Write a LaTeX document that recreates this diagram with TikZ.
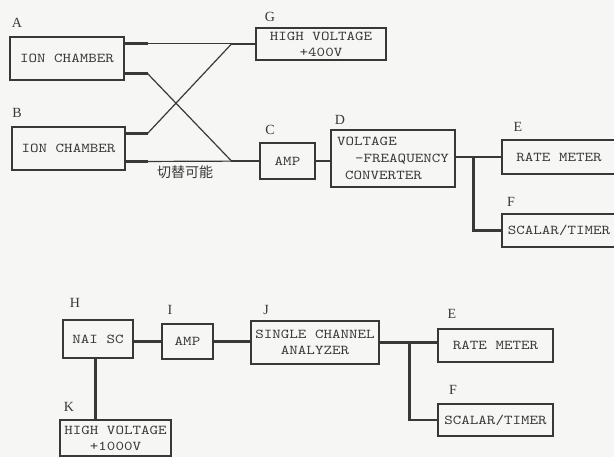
\documentclass[tikz,border=0pt]{standalone}
\usepackage{fontspec}
\setmainfont{Liberation Serif}
\setmonofont{lmmono10-regular.otf}[FakeStretch=1.2]
\newfontfamily\cjk{Noto Sans CJK JP}
\usetikzlibrary{positioning}
\definecolor{ink}{gray}{0.22}
\definecolor{paper}{rgb}{0.965,0.965,0.955}

\begin{document}
\begin{tikzpicture}[x=1pt, y=-1pt,
   box/.style={draw=ink, line width=1.1pt, text=ink, inner sep=2pt, align=center,
     font=\ttfamily\fontsize{13.5}{16}\selectfont},
   tag/.style={text=ink, inner sep=0pt, font=\fontsize{14}{14}\selectfont},
   wire/.style={draw=ink, line width=2.6pt},
   lead/.style={draw=ink, line width=1.2pt}]
   \fill[paper] (0,0) rectangle (614,457);
   \useasboundingbox (0,0) rectangle (614,457);

   % ion chambers
   \node[box, minimum width=114, minimum height=43] (A) at (67,58.5) {ION CHAMBER};
   \node[box, minimum width=113, minimum height=43] (B) at (68.5,148.5) {ION CHAMBER};
   \node[box, minimum width=130, minimum height=32] (G) at (321,44) {HIGH VOLTAGE\\+400V};
   \node[box, minimum width=55, minimum height=36] (C) at (287.5,161) {AMP};
   \node[box, minimum width=124, minimum height=57, align=left,
         font=\ttfamily\fontsize{13.5}{17}\selectfont] (D) at (393,158.5)
         {VOLTAGE\\\hspace*{18pt}-FREAQUENCY\\\hspace*{8pt}CONVERTER};
   \node[box, minimum width=114, minimum height=34] (E) at (559,157) {RATE METER};
   \node[box, minimum width=114, minimum height=33] (F) at (559,230.5) {SCALAR/TIMER};

   \node[tag] (tA) at (17,23) {A};
   \node[tag] (tB) at (17,113) {B};
   \node[tag] (tG) at (270,17) {G};
   \node[tag] (tC) at (270,130) {C};
   \node[tag] (tD) at (340,120) {D};
   \node[tag] (tE) at (518,127) {E};
   \node[tag] (tF) at (511,202) {F};
   \node[text=ink, inner sep=0pt, font=\cjk\fontsize{14}{14}\selectfont] (sw) at (185,172) {切替可能};

   \coordinate (a1) at ([yshift=-7pt]A.north east);
   \coordinate (a2) at ([yshift=7pt]A.south east);
   \coordinate (b1) at ([yshift=-7pt]B.north east);
   \coordinate (b2) at ([yshift=9pt]B.south east);
   \coordinate (gj) at ([xshift=-24pt]G.west);
   \coordinate (cj) at ([xshift=-28pt]C.west);
   \coordinate (dj) at ([xshift=18pt]D.east |- E.west);

   \draw[lead] (a1) -- (a1 -| G.west);
   \draw[lead] (b1) -- ++(22,0) -- (gj);
   \draw[lead] (a2) -- ++(23,0) -- (cj);
   \draw[lead] (b2) -- (C.west);
   \draw[wire] (a1) -- ++(23,0);
   \draw[wire] (a2) -- ++(23,0);
   \draw[wire] (b1) -- ++(22,0);
   \draw[wire] (b2) -- ++(22,0);
   \draw[wire] (gj) -- (G.west);
   \draw[wire] (cj) -- (C.west);
   \draw[wire] (C.east) -- (C.east -| D.west);
   \draw[wire] (D.east |- E.west) -- (E.west);
   \draw[wire] (dj) |- (F.west);

   % scintillation counter
   \node[box, minimum width=70, minimum height=38] (H) at (98,339) {NAI SC};
   \node[box, minimum width=51, minimum height=35] (I) at (187.5,341.5) {AMP};
   \node[box, minimum width=128, minimum height=43] (J) at (315,342.5) {SINGLE CHANNEL\\ANALYZER};
   \node[box, minimum width=115, minimum height=33] (E2) at (495.5,345.5) {RATE METER};
   \node[box, minimum width=115, minimum height=32] (F2) at (495.5,420) {SCALAR/TIMER};
   \node[box, minimum width=111, minimum height=36] (K) at (115.5,438) {HIGH VOLTAGE\\+1000V};

   \node[tag] (tH) at (75,303) {H};
   \node[tag] (tI) at (170,310) {I};
   \node[tag] (tJ) at (266,310) {J};
   \node[tag] (tE2) at (452,314) {E};
   \node[tag] (tF2) at (453,390) {F};
   \node[tag] (tK) at (69,407) {K};

   \coordinate (jj) at ([xshift=30pt]J.east);
   \coordinate (hk) at ([xshift=-2.3pt]H.south);

   \draw[wire] (H.east |- I.west) -- (I.west);
   \draw[wire] (I.east) -- (I.east -| J.west);
   \draw[wire] (J.east) -- (J.east -| E2.west);
   \draw[wire] (jj) |- (F2.west);
   \draw[wire] (hk) -- (hk |- K.north);
\end{tikzpicture}
\end{document}
